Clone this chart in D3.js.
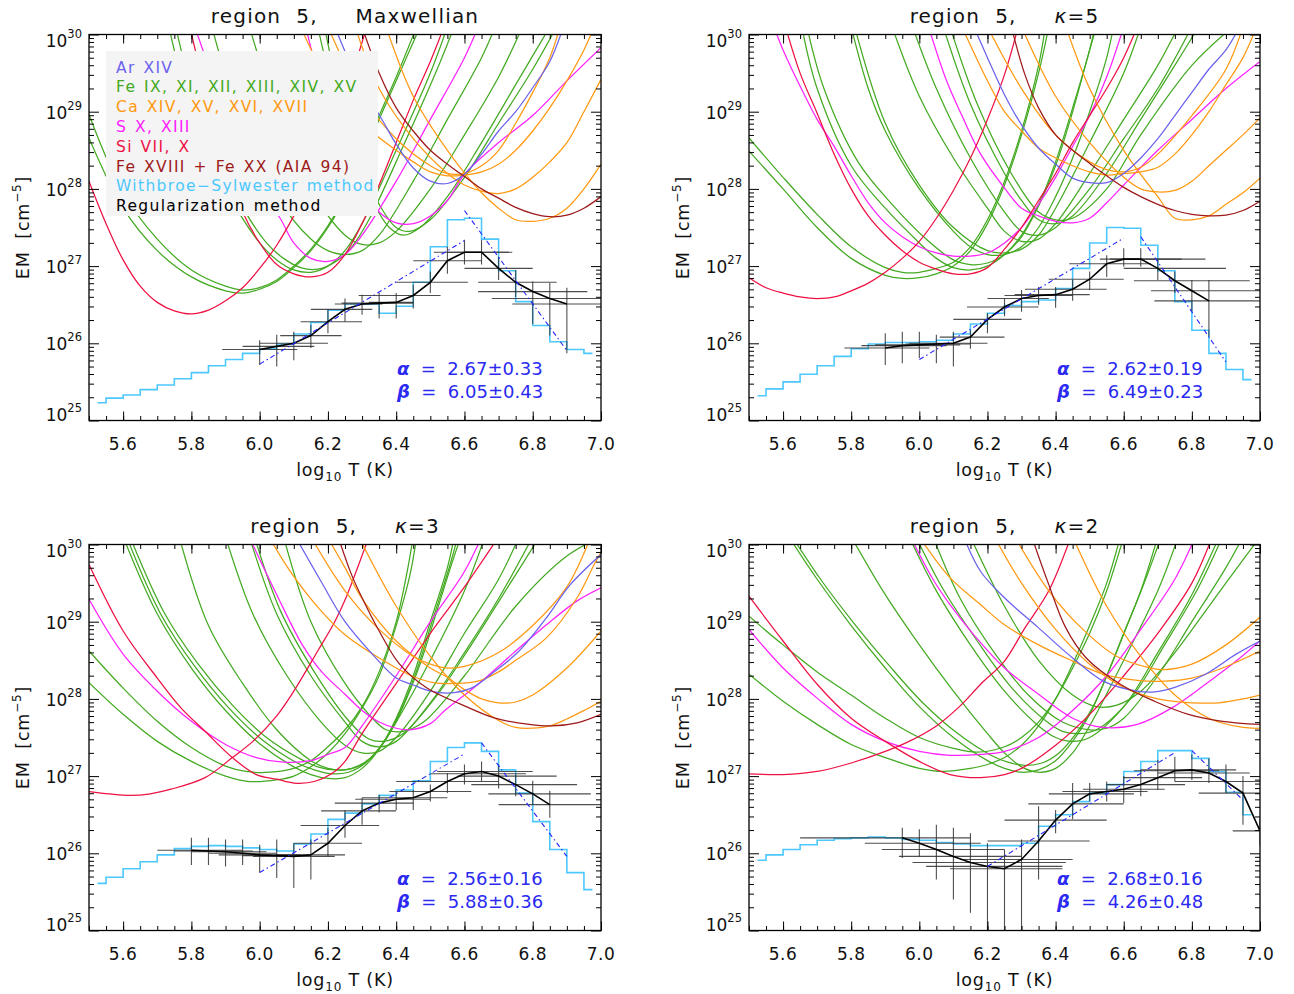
<!DOCTYPE html>
<html>
<head>
<meta charset="utf-8">
<script src="https://cdn.jsdelivr.net/npm/d3@7"></script>
<style>
  body { margin: 0; background: #fff; }
  text { font-family: "DejaVu Sans", sans-serif; font-weight: 400; fill: #111; }
</style>
</head>
<body>
<svg id="fig" width="1294" height="994"></svg>
<script>
// ---------- shared ----------
const tempBins = [5.525,5.575,5.625,5.675,5.725,5.775,5.825,5.875,5.925,5.975,6.025,6.075,6.125,6.175,6.225,6.275,6.325,6.375,6.425,6.475,6.525,6.575,6.625,6.675,6.725,6.775,6.825,6.875,6.925,6.975];
const xMajorTicks = [5.6, 5.8, 6.0, 6.2, 6.4, 6.6, 6.8, 7.0];
const xTickLabels = ["5.6","5.8","6.0","6.2","6.4","6.6","6.8","7.0"];
const yDecades = [25, 26, 27, 28, 29, 30];
const legendLabels = ["Ar XIV", "Fe IX, XI, XII, XIII, XIV, XV", "Ca XIV, XV, XVI, XVII", "S X, XIII", "Si VII, X", "Fe XVIII + Fe XX (AIA 94)", "Withbroe\u2212Sylwester method", "Regularization method"];
const colors = { ar: "#6b62ee", fe: "#44aa22", ca: "#ff9911", s: "#ff22ff", si: "#ee1144", fehot: "#9e1a1a", ws: "#4cc8ff", reg: "#000000", fit: "#2424ff" };

// ---------- Maxwellian ----------
const mxwFe = [
  [[5.5,28.96],[5.6,27.95],[5.7,27.35],[5.8,26.95],[5.9,26.74],[5.95,26.69],[6.0,26.72],[6.05,26.82],[6.1,27.0],[6.15,27.22],[6.2,27.52],[6.25,27.9],[6.3,28.4],[6.35,28.95],[6.4,29.45],[6.46,30.1]],
  [[5.5,28.66],[5.6,27.75],[5.7,27.2],[5.8,26.86],[5.9,26.68],[5.95,26.65],[6.0,26.7],[6.05,26.8],[6.1,26.98],[6.15,27.2],[6.2,27.5],[6.25,27.88],[6.3,28.35],[6.35,28.9],[6.4,29.4],[6.47,30.1]],
  [[5.734,30.1],[5.8,29.0],[5.9,28.0],[6.0,27.3],[6.05,27.08],[6.1,26.95],[6.15,26.92],[6.2,27.0],[6.25,27.2],[6.3,27.55],[6.4,28.5],[6.5,29.5],[6.55,30.1]],
  [[5.754,30.1],[5.82,29.0],[5.92,28.0],[6.02,27.3],[6.07,27.1],[6.12,26.98],[6.17,26.96],[6.22,27.05],[6.27,27.25],[6.32,27.6],[6.42,28.55],[6.52,29.55],[6.57,30.1]],
  [[5.86,30.1],[5.95,28.8],[6.05,27.9],[6.15,27.35],[6.2,27.2],[6.25,27.15],[6.3,27.2],[6.35,27.4],[6.45,28.1],[6.55,28.9],[6.65,29.7],[6.69,30.1]],
  [[5.97,30.1],[6.05,29.0],[6.15,28.0],[6.25,27.4],[6.3,27.28],[6.35,27.3],[6.4,27.45],[6.5,28.0],[6.6,28.7],[6.7,29.45],[6.77,30.1]],
  [[6.17,30.1],[6.22,29.2],[6.28,28.4],[6.33,27.85],[6.38,27.5],[6.42,27.4],[6.47,27.5],[6.55,27.9],[6.65,28.6],[6.75,29.35],[6.85,30.1]],
  [[6.19,30.1],[6.24,29.1],[6.3,28.3],[6.35,27.8],[6.4,27.5],[6.44,27.45],[6.5,27.6],[6.6,28.15],[6.7,28.85],[6.8,29.55],[6.87,30.1]]
];
const mxwCa = [
  [[6.12,30.1],[6.2,29.4],[6.3,28.85],[6.4,28.5],[6.45,28.35],[6.5,28.22],[6.55,28.17],[6.6,28.18],[6.65,28.22],[6.7,28.32],[6.75,28.5],[6.8,28.75],[6.85,29.05],[6.9,29.4],[6.95,29.8],[6.98,30.1]],
  [[6.28,30.1],[6.35,29.3],[6.45,28.65],[6.55,28.2],[6.6,28.05],[6.65,27.97],[6.7,27.94],[6.75,28.0],[6.8,28.15],[6.85,28.35],[6.9,28.6],[6.95,29.0],[7.0,29.42]],
  [[6.37,30.1],[6.45,29.2],[6.55,28.5],[6.65,27.95],[6.7,27.75],[6.75,27.6],[6.8,27.58],[6.85,27.62],[6.9,27.75],[6.95,28.0],[7.0,28.32]],
  [[6.2,30.1],[6.3,29.2],[6.4,28.65],[6.5,28.3],[6.55,28.2],[6.6,28.2],[6.65,28.3],[6.7,28.5],[6.75,28.85],[6.8,29.25],[6.85,29.7],[6.88,30.1]]
];
const mxwS = [
  [[5.81,30.1],[5.9,29.0],[6.0,28.0],[6.06,27.62],[6.1,27.3],[6.15,27.1],[6.2,27.06],[6.25,27.15],[6.3,27.4],[6.4,28.1],[6.5,28.9],[6.6,29.7],[6.64,30.1]],
  [[6.135,30.1],[6.2,29.0],[6.25,28.4],[6.3,28.0],[6.35,27.7],[6.4,27.56],[6.45,27.55],[6.5,27.65],[6.55,27.85],[6.6,28.19],[6.7,28.6],[6.8,28.95],[6.9,29.4],[7.0,29.83]]
];
const mxwSi = [
  [[5.5,28.1],[5.55,27.55],[5.6,27.08],[5.65,26.74],[5.7,26.53],[5.75,26.42],[5.8,26.38],[5.85,26.43],[5.9,26.55],[5.95,26.72],[6.0,26.97],[6.05,27.27],[6.1,27.65],[6.15,28.1],[6.2,28.6],[6.25,29.2],[6.3,29.9],[6.32,30.2]],
  [[5.79,30.2],[5.85,29.1],[5.9,28.3],[5.95,27.7],[6.0,27.3],[6.05,27.02],[6.1,26.9],[6.15,26.86],[6.2,26.92],[6.25,27.15],[6.3,27.55],[6.35,28.05],[6.4,28.6],[6.45,29.15],[6.5,29.65],[6.54,30.1]]
];
const mxwAr = [
  [[6.22,30.1],[6.3,29.3],[6.35,28.96],[6.4,28.58],[6.45,28.27],[6.5,28.1],[6.55,28.07],[6.6,28.19],[6.65,28.45],[6.7,28.75],[6.75,29.0],[6.8,29.31],[6.85,29.65],[6.89,30.1]]
];
const mxwFeHot = [
  [[6.3,30.1],[6.35,29.5],[6.4,29.05],[6.45,28.75],[6.5,28.5],[6.55,28.32],[6.6,28.16],[6.65,28.0],[6.7,27.88],[6.75,27.76],[6.8,27.68],[6.85,27.64],[6.9,27.66],[6.95,27.75],[7.0,27.9]]
];
const mxwWS = [25.23,25.29,25.33,25.40,25.46,25.54,25.62,25.71,25.79,25.87,25.93,25.99,26.12,26.27,26.43,26.51,26.51,26.39,26.48,26.79,27.25,27.60,27.62,27.35,26.94,26.54,26.23,26.02,25.92,25.87];
const mxwRegT    = [6.00,6.05,6.10,6.15,6.20,6.25,6.30,6.35,6.40,6.45,6.50,6.55,6.60,6.65,6.70,6.75,6.80,6.85,6.90];
const mxwRegEM   = [25.92,25.96,26.00,26.10,26.28,26.44,26.51,26.52,26.53,26.62,26.79,27.07,27.18,27.18,26.97,26.79,26.67,26.58,26.51];
const mxwRegTlo  = [5.89,5.95,6.00,6.06,6.12,6.15,6.22,6.24,6.32,6.29,6.40,6.45,6.51,6.55,6.60,6.64,6.64,6.68,6.74];
const mxwRegThi  = [6.11,6.16,6.20,6.24,6.30,6.33,6.36,6.45,6.45,6.53,6.61,6.65,6.73,6.74,6.80,6.87,6.96,7.00,7.00];
const mxwRegEMlo = [25.72,25.70,25.78,25.94,26.13,26.28,26.37,26.32,26.32,26.45,26.65,26.90,27.02,27.02,26.82,26.60,26.25,26.10,25.87];
const mxwRegEMhi = [26.04,26.11,26.15,26.24,26.43,26.58,26.63,26.65,26.65,26.76,26.93,27.25,27.34,27.34,27.12,26.95,26.80,26.78,26.72];
const mxwAlpha = [2.67, 0.33];
const mxwBeta  = [6.05, 0.43];
const mxwFitRise = [6.0, 6.6, 25.73];
const mxwFitFall = [6.6, 6.9, 27.72];

// ---------- kappa = 5 ----------
const k5Fe = [
  [[5.5,28.66],[5.6,28.15],[5.7,27.67],[5.8,27.25],[5.9,26.98],[5.95,26.92],[6.0,26.92],[6.05,26.97],[6.1,27.05],[6.15,27.25],[6.2,27.6],[6.25,28.1],[6.3,28.75],[6.35,29.6],[6.37,30.1]],
  [[5.5,28.49],[5.6,28.0],[5.7,27.5],[5.8,27.1],[5.9,26.88],[5.95,26.84],[6.0,26.85],[6.05,26.9],[6.1,27.0],[6.15,27.2],[6.2,27.55],[6.25,28.05],[6.3,28.7],[6.35,29.5],[6.38,30.1]],
  [[5.655,30.1],[5.7,29.3],[5.8,28.3],[5.9,27.75],[6.0,27.3],[6.05,27.1],[6.1,26.98],[6.15,26.95],[6.2,27.0],[6.25,27.15],[6.3,27.4],[6.35,27.8],[6.4,28.35],[6.45,29.05],[6.5,29.8],[6.515,30.1]],
  [[5.67,30.1],[5.72,29.3],[5.82,28.35],[5.92,27.8],[6.02,27.35],[6.1,27.08],[6.15,27.02],[6.2,27.04],[6.25,27.15],[6.3,27.38],[6.35,27.78],[6.4,28.3],[6.45,29.0],[6.5,29.8],[6.52,30.1]],
  [[5.8,30.1],[5.85,29.3],[5.9,28.75],[6.0,28.0],[6.1,27.45],[6.15,27.25],[6.2,27.15],[6.25,27.15],[6.3,27.25],[6.35,27.5],[6.4,27.9],[6.45,28.4],[6.5,29.0],[6.55,29.7],[6.57,30.1]],
  [[5.81,30.1],[5.9,28.85],[6.0,28.05],[6.1,27.5],[6.2,27.2],[6.25,27.17],[6.3,27.22],[6.35,27.4],[6.4,27.75],[6.5,28.6],[6.6,29.5],[6.65,30.1]],
  [[5.92,30.1],[6.0,29.2],[6.1,28.4],[6.2,27.75],[6.25,27.45],[6.3,27.32],[6.35,27.35],[6.4,27.55],[6.5,28.2],[6.6,28.9],[6.7,29.6],[6.76,30.1]],
  [[5.98,30.1],[6.05,29.3],[6.15,28.4],[6.25,27.7],[6.3,27.45],[6.35,27.4],[6.4,27.5],[6.5,28.0],[6.6,28.65],[6.7,29.3],[6.8,30.1]],
  [[6.07,30.1],[6.15,29.1],[6.25,28.2],[6.3,27.85],[6.35,27.6],[6.4,27.55],[6.45,27.65],[6.55,28.2],[6.65,28.9],[6.75,29.6],[6.82,30.1]],
  [[6.09,30.1],[6.17,29.1],[6.27,28.2],[6.35,27.7],[6.4,27.6],[6.45,27.62],[6.55,28.0],[6.65,28.7],[6.8,29.6],[6.92,30.1]]
];
const k5Ca = [
  [[6.125,30.1],[6.2,29.4],[6.25,29.0],[6.3,28.75],[6.35,28.53],[6.4,28.4],[6.45,28.3],[6.5,28.22],[6.55,28.18],[6.6,28.2],[6.65,28.22],[6.7,28.28],[6.75,28.45],[6.8,28.7],[6.85,29.0],[6.9,29.35],[6.95,29.7],[6.99,30.1]],
  [[6.3,30.1],[6.4,29.2],[6.5,28.6],[6.6,28.15],[6.65,28.0],[6.7,27.96],[6.75,27.98],[6.8,28.1],[6.85,28.3],[6.9,28.5],[6.95,28.7],[7.0,28.92]],
  [[6.43,30.1],[6.5,29.3],[6.6,28.5],[6.7,27.9],[6.75,27.62],[6.8,27.6],[6.85,27.65],[6.9,27.8],[6.95,27.95],[7.0,28.14]],
  [[6.2,30.1],[6.3,29.3],[6.4,28.7],[6.5,28.35],[6.55,28.25],[6.6,28.22],[6.65,28.28],[6.7,28.45],[6.8,28.95],[6.9,29.55],[6.95,30.1]]
];
const k5S = [
  [[5.573,30.1],[5.6,29.8],[5.65,29.33],[5.7,28.9],[5.75,28.55],[5.8,28.17],[5.85,27.82],[5.9,27.56],[5.95,27.38],[6.0,27.25],[6.05,27.17],[6.1,27.13],[6.15,27.13],[6.2,27.17],[6.25,27.3],[6.3,27.5],[6.35,27.8],[6.4,28.15],[6.45,28.55],[6.5,28.95],[6.55,29.45],[6.6,30.1]],
  [[6.027,30.1],[6.08,29.4],[6.125,28.95],[6.18,28.45],[6.25,28.01],[6.3,27.75],[6.35,27.65],[6.4,27.58],[6.45,27.56],[6.5,27.62],[6.55,27.82],[6.6,28.05],[6.7,28.5],[6.8,28.9],[6.9,29.3],[7.0,29.65]]
];
const k5Si = [
  [[5.5,26.85],[5.55,26.72],[5.6,26.65],[5.65,26.6],[5.7,26.58],[5.75,26.6],[5.8,26.68],[5.85,26.78],[5.9,26.92],[5.95,27.1],[6.0,27.32],[6.05,27.62],[6.1,27.98],[6.15,28.4],[6.2,28.9],[6.25,29.48],[6.29,30.1]],
  [[5.607,30.1],[5.65,29.5],[5.7,28.98],[5.75,28.45],[5.8,28.0],[5.85,27.65],[5.9,27.4],[5.95,27.2],[6.0,27.05],[6.05,26.96],[6.1,26.9],[6.15,26.9],[6.2,26.98],[6.25,27.22],[6.3,27.5],[6.35,27.85],[6.4,28.2],[6.45,28.6],[6.5,28.95],[6.55,29.3],[6.6,29.7],[6.64,30.1]]
];
const k5Ar = [
  [[6.16,30.1],[6.2,29.7],[6.25,29.22],[6.3,28.83],[6.35,28.53],[6.4,28.32],[6.45,28.14],[6.5,28.08],[6.55,28.08],[6.6,28.2],[6.65,28.4],[6.7,28.65],[6.75,28.95],[6.8,29.25],[6.85,29.55],[6.9,29.8],[6.94,30.1]]
];
const k5FeHot = [
  [[6.27,30.1],[6.31,29.48],[6.35,29.05],[6.4,28.7],[6.45,28.5],[6.5,28.33],[6.55,28.17],[6.6,28.02],[6.65,27.9],[6.7,27.8],[6.75,27.72],[6.8,27.67],[6.85,27.65],[6.9,27.66],[6.95,27.72],[7.0,27.84]]
];
const k5WS = [25.32,25.41,25.50,25.60,25.71,25.83,25.93,25.99,26.01,26.01,26.02,26.04,26.12,26.25,26.39,26.49,26.54,26.56,26.71,26.97,27.30,27.50,27.49,27.27,26.94,26.54,26.17,25.87,25.66,25.53];
const k5RegT    = [5.90,5.95,6.00,6.05,6.10,6.15,6.20,6.25,6.30,6.35,6.40,6.45,6.50,6.55,6.60,6.65,6.70,6.75,6.80,6.85];
const k5RegEM   = [25.94,25.97,25.98,25.99,26.00,26.08,26.31,26.47,26.58,26.62,26.63,26.70,26.83,27.03,27.09,27.09,26.97,26.81,26.68,26.55];
const k5RegTlo  = [5.78,5.83,5.87,5.96,5.97,6.06,6.10,6.14,6.20,6.25,6.28,6.31,6.38,6.44,6.53,6.56,6.60,6.63,6.68,6.69];
const k5RegThi  = [6.03,6.08,6.12,6.15,6.20,6.25,6.30,6.35,6.38,6.45,6.50,6.55,6.60,6.68,6.77,6.84,6.90,6.97,7.00,7.00];
const k5RegEMlo = [25.72,25.74,25.81,25.74,25.70,25.93,26.13,26.35,26.41,26.50,26.46,26.55,26.69,26.86,26.99,26.99,26.82,26.65,26.41,26.09];
const k5RegEMhi = [26.13,26.15,26.15,26.11,26.15,26.17,26.39,26.58,26.69,26.73,26.73,26.82,26.93,27.14,27.23,27.23,27.08,26.93,26.82,26.82];
const k5Alpha = [2.62, 0.19];
const k5Beta  = [6.49, 0.23];
const k5FitRise = [6.0, 6.6, 25.79];
const k5FitFall = [6.65, 6.9, 27.38];

// ---------- kappa = 3 ----------
const k3Fe = [
  [[5.5,28.62],[5.6,28.14],[5.7,27.71],[5.8,27.37],[5.9,27.13],[5.96,27.06],[6.03,27.05],[6.1,27.1],[6.15,27.2],[6.2,27.38],[6.25,27.6],[6.3,27.9],[6.35,28.35],[6.4,29.0],[6.43,29.6],[6.45,30.1]],
  [[5.5,28.21],[5.6,27.8],[5.7,27.45],[5.8,27.19],[5.9,27.0],[5.97,26.93],[6.05,26.95],[6.1,27.0],[6.15,27.12],[6.2,27.3],[6.25,27.55],[6.3,27.88],[6.35,28.3],[6.4,28.95],[6.44,29.6],[6.46,30.1]],
  [[5.60,30.1],[5.7,29.1],[5.8,28.4],[5.9,27.85],[6.0,27.42],[6.1,27.12],[6.15,27.02],[6.2,26.97],[6.25,26.98],[6.3,27.1],[6.35,27.35],[6.4,27.75],[6.45,28.3],[6.5,29.0],[6.55,29.7],[6.57,30.1]],
  [[5.61,30.1],[5.71,29.1],[5.81,28.42],[5.91,27.88],[6.01,27.46],[6.11,27.17],[6.16,27.08],[6.21,27.03],[6.26,27.05],[6.31,27.17],[6.36,27.42],[6.41,27.82],[6.46,28.37],[6.51,29.07],[6.56,29.77],[6.58,30.1]],
  [[5.62,30.1],[5.72,29.12],[5.82,28.45],[5.92,27.92],[6.02,27.5],[6.12,27.22],[6.17,27.12],[6.22,27.08],[6.27,27.1],[6.32,27.22],[6.37,27.48],[6.42,27.9],[6.47,28.45],[6.52,29.15],[6.57,29.85],[6.59,30.1]],
  [[5.764,30.1],[5.85,28.95],[5.95,28.2],[6.05,27.6],[6.15,27.2],[6.2,27.1],[6.25,27.08],[6.3,27.15],[6.35,27.35],[6.4,27.7],[6.5,28.5],[6.6,29.4],[6.66,30.1]],
  [[5.90,30.1],[5.98,29.1],[6.08,28.3],[6.18,27.7],[6.25,27.4],[6.3,27.3],[6.35,27.32],[6.4,27.5],[6.5,28.1],[6.6,28.85],[6.7,29.55],[6.76,30.1]],
  [[5.97,30.1],[6.05,29.1],[6.15,28.3],[6.25,27.7],[6.3,27.45],[6.35,27.38],[6.4,27.45],[6.5,27.95],[6.6,28.6],[6.7,29.3],[6.8,30.1]],
  [[5.985,30.1],[6.06,29.15],[6.16,28.35],[6.26,27.72],[6.32,27.48],[6.36,27.45],[6.42,27.55],[6.52,28.05],[6.62,28.7],[6.72,29.4],[6.82,30.1]],
  [[6.07,30.1],[6.15,29.0],[6.25,28.2],[6.32,27.8],[6.37,27.6],[6.42,27.58],[6.48,27.7],[6.6,28.3],[6.75,29.2],[6.9,29.85],[7.0,30.1]]
];
const k3Ca = [
  [[6.027,30.1],[6.09,29.65],[6.18,29.14],[6.25,28.83],[6.35,28.53],[6.45,28.29],[6.51,28.21],[6.57,28.2],[6.64,28.23],[6.7,28.35],[6.75,28.5],[6.84,28.79],[6.93,29.31],[6.98,29.74],[7.0,29.9]],
  [[6.198,30.1],[6.25,29.7],[6.3,29.3],[6.4,28.75],[6.5,28.4],[6.55,28.28],[6.6,28.12],[6.65,28.0],[6.7,27.95],[6.75,27.96],[6.8,28.05],[6.9,28.4],[7.0,28.88]],
  [[6.29,30.1],[6.4,29.2],[6.5,28.55],[6.6,28.05],[6.7,27.72],[6.75,27.63],[6.8,27.62],[6.85,27.65],[6.9,27.74],[6.95,27.85],[7.0,27.97]],
  [[6.15,30.1],[6.25,29.4],[6.35,28.9],[6.45,28.55],[6.5,28.45],[6.55,28.4],[6.6,28.42],[6.7,28.6],[6.8,28.95],[6.9,29.45],[6.97,30.1]]
];
const k3S = [
  [[5.5,29.29],[5.6,28.58],[5.7,28.1],[5.8,27.71],[5.9,27.41],[5.99,27.24],[6.07,27.18],[6.15,27.2],[6.2,27.28],[6.25,27.37],[6.3,27.65],[6.4,28.3],[6.5,29.0],[6.6,29.65],[6.65,30.1]],
  [[5.969,30.1],[6.05,29.35],[6.125,28.7],[6.18,28.36],[6.25,28.06],[6.3,27.85],[6.35,27.7],[6.4,27.62],[6.44,27.6],[6.5,27.68],[6.54,27.84],[6.64,28.19],[6.74,28.58],[6.84,28.96],[6.93,29.27],[7.0,29.44]]
];
const k3Si = [
  [[5.5,26.8],[5.56,26.77],[5.62,26.75],[5.68,26.77],[5.74,26.83],[5.84,26.98],[5.92,27.24],[5.98,27.45],[6.05,27.78],[6.1,28.1],[6.17,28.62],[6.22,29.0],[6.25,29.28],[6.32,30.1]],
  [[5.5,29.74],[5.6,28.88],[5.7,28.27],[5.77,27.88],[5.84,27.58],[5.92,27.24],[5.99,27.02],[6.05,26.96],[6.1,26.91],[6.16,26.93],[6.22,27.06],[6.25,27.19],[6.3,27.55],[6.4,28.2],[6.5,28.85],[6.6,29.45],[6.7,30.1]]
];
const k3Ar = [
  [[6.105,30.1],[6.18,29.52],[6.25,29.0],[6.33,28.58],[6.4,28.27],[6.445,28.19],[6.5,28.1],[6.57,28.08],[6.62,28.14],[6.69,28.36],[6.76,28.62],[6.84,29.05],[6.91,29.48],[7.0,29.87]]
];
const k3FeHot = [
  [[6.23,30.1],[6.27,29.6],[6.31,29.22],[6.35,28.88],[6.41,28.45],[6.49,28.14],[6.59,27.93],[6.69,27.75],[6.79,27.67],[6.855,27.65],[6.93,27.69],[7.0,27.8]]
];
const k3WS = [25.61,25.69,25.80,25.89,25.98,26.06,26.09,26.10,26.09,26.07,26.05,26.03,26.12,26.25,26.44,26.52,26.64,26.75,26.82,26.94,27.19,27.37,27.43,27.32,27.08,26.78,26.41,26.05,25.75,25.53];
const k3RegT    = [5.80,5.85,5.90,5.95,6.00,6.05,6.10,6.15,6.20,6.25,6.30,6.35,6.40,6.45,6.50,6.55,6.60,6.65,6.70,6.75,6.80,6.85];
const k3RegEM   = [26.04,26.03,26.02,26.00,25.98,25.97,25.96,25.98,26.13,26.36,26.55,26.65,26.70,26.72,26.80,26.93,27.03,27.06,27.00,26.89,26.77,26.63];
const k3RegTlo  = [5.70,5.75,5.80,5.85,5.88,5.95,5.98,6.05,6.10,6.12,6.18,6.22,6.28,6.30,6.38,6.40,6.50,6.52,6.58,6.62,6.67,6.70];
const k3RegThi  = [5.95,5.98,6.02,6.05,6.12,6.15,6.22,6.25,6.30,6.35,6.40,6.45,6.50,6.55,6.62,6.70,6.78,6.80,6.87,6.93,6.97,7.00];
const k3RegEMlo = [25.85,25.85,25.83,25.85,25.75,25.68,25.55,25.66,25.96,26.20,26.37,26.53,26.56,26.56,26.67,26.78,26.89,26.93,26.84,26.74,26.63,26.46];
const k3RegEMhi = [26.20,26.20,26.18,26.18,26.11,26.18,26.13,26.18,26.33,26.56,26.72,26.76,26.80,26.82,26.89,27.04,27.15,27.19,27.15,27.02,26.94,26.81];
const k3Alpha = [2.56, 0.16];
const k3Beta  = [5.88, 0.36];
const k3FitRise = [6.0, 6.6, 25.75];
const k3FitFall = [6.65, 6.9, 27.43];

// ---------- kappa = 2 ----------
const k2Fe = [
  [[5.5,29.07],[5.6,28.7],[5.7,28.35],[5.8,28.05],[5.9,27.75],[6.0,27.5],[6.1,27.36],[6.17,27.31],[6.25,27.38],[6.3,27.5],[6.35,27.7],[6.4,28.0],[6.45,28.4],[6.5,28.85],[6.55,29.4],[6.6,30.1]],
  [[5.5,28.32],[5.6,27.97],[5.7,27.67],[5.8,27.41],[5.9,27.24],[6.0,27.1],[6.07,27.06],[6.15,27.1],[6.2,27.15],[6.25,27.24],[6.3,27.4],[6.35,27.65],[6.4,28.0],[6.45,28.45],[6.5,28.95],[6.55,29.5],[6.59,30.1]],
  [[5.617,30.1],[5.7,29.55],[5.8,28.95],[5.9,28.4],[6.0,27.9],[6.1,27.5],[6.2,27.2],[6.25,27.1],[6.3,27.05],[6.35,27.08],[6.4,27.2],[6.45,27.45],[6.5,27.8],[6.55,28.3],[6.6,28.85],[6.65,29.4],[6.7,30.1]],
  [[5.627,30.1],[5.71,29.55],[5.81,28.97],[5.91,28.44],[6.01,27.95],[6.11,27.56],[6.21,27.27],[6.26,27.18],[6.31,27.14],[6.36,27.17],[6.41,27.3],[6.46,27.55],[6.51,27.9],[6.56,28.4],[6.61,28.95],[6.66,29.5],[6.71,30.1]],
  [[5.80,30.1],[5.9,29.35],[6.0,28.7],[6.1,28.1],[6.2,27.55],[6.25,27.3],[6.3,27.12],[6.35,27.05],[6.4,27.1],[6.45,27.3],[6.5,27.65],[6.6,28.5],[6.7,29.4],[6.76,30.1]],
  [[5.97,30.1],[6.05,29.4],[6.15,28.7],[6.25,28.1],[6.35,27.65],[6.4,27.5],[6.45,27.45],[6.5,27.5],[6.6,27.9],[6.7,28.6],[6.8,29.35],[6.88,30.1]],
  [[5.99,30.1],[6.07,29.42],[6.17,28.75],[6.27,28.15],[6.37,27.72],[6.42,27.58],[6.47,27.55],[6.52,27.6],[6.62,28.0],[6.72,28.7],[6.82,29.45],[6.89,30.1]],
  [[6.04,30.1],[6.12,29.3],[6.22,28.6],[6.32,28.05],[6.42,27.7],[6.5,27.6],[6.55,27.62],[6.6,27.75],[6.7,28.3],[6.8,29.0],[6.9,29.7],[6.95,30.1]],
  [[6.15,30.1],[6.25,29.2],[6.35,28.5],[6.45,28.05],[6.52,27.9],[6.58,27.92],[6.65,28.1],[6.75,28.6],[6.85,29.2],[6.95,29.8],[7.0,30.1]]
];
const k2Ca = [
  [[6.0,30.1],[6.09,29.57],[6.18,29.22],[6.25,28.96],[6.35,28.7],[6.45,28.49],[6.54,28.32],[6.64,28.24],[6.72,28.23],[6.8,28.27],[6.89,28.4],[7.0,28.62]],
  [[6.22,30.1],[6.3,29.5],[6.4,28.9],[6.5,28.45],[6.6,28.15],[6.7,28.0],[6.8,27.95],[6.88,27.95],[6.95,28.0],[7.0,28.05]],
  [[6.45,30.1],[6.55,29.2],[6.65,28.55],[6.75,28.05],[6.85,27.75],[6.95,27.63],[7.0,27.62]],
  [[6.28,30.1],[6.38,29.4],[6.48,28.9],[6.58,28.55],[6.68,28.4],[6.72,28.38],[6.8,28.45],[6.9,28.7],[7.0,29.06]]
];
const k2S = [
  [[5.5,28.9],[5.6,28.4],[5.7,28.01],[5.8,27.67],[5.9,27.45],[6.0,27.32],[6.09,27.27],[6.18,27.28],[6.25,27.32],[6.35,27.5],[6.45,27.85],[6.55,28.3],[6.65,28.9],[6.75,29.55],[6.81,30.1]],
  [[5.974,30.1],[6.04,29.55],[6.09,29.22],[6.16,28.83],[6.25,28.4],[6.35,28.06],[6.45,27.75],[6.54,27.63],[6.64,27.67],[6.74,27.88],[6.84,28.19],[6.93,28.49],[7.0,28.75]]
];
const k2Si = [
  [[5.5,27.03],[5.6,27.02],[5.7,27.06],[5.8,27.17],[5.9,27.32],[5.97,27.45],[6.05,27.65],[6.12,27.91],[6.18,28.19],[6.25,28.49],[6.31,28.92],[6.38,29.4],[6.445,30.1]],
  [[5.5,29.33],[5.6,28.75],[5.7,28.19],[5.8,27.75],[5.9,27.45],[6.0,27.19],[6.09,27.02],[6.18,26.98],[6.25,27.02],[6.3,27.1],[6.4,27.4],[6.5,27.8],[6.6,28.3],[6.7,28.85],[6.8,29.5],[6.86,30.1]]
];
const k2Ar = [
  [[6.13,30.1],[6.18,29.65],[6.25,29.31],[6.35,28.92],[6.45,28.53],[6.54,28.23],[6.64,28.1],[6.69,28.09],[6.75,28.15],[6.84,28.32],[6.93,28.58],[7.0,28.75]]
];
const k2FeHot = [
  [[6.33,30.1],[6.38,29.48],[6.43,28.92],[6.49,28.53],[6.59,28.19],[6.69,27.97],[6.79,27.8],[6.89,27.71],[7.0,27.67]]
];
const k2WS = [25.91,25.98,26.05,26.11,26.17,26.19,26.20,26.21,26.20,26.18,26.17,26.14,26.12,26.10,26.10,26.10,26.13,26.35,26.50,26.67,26.78,26.89,27.06,27.19,27.33,27.33,27.23,27.06,26.79,26.50];
const k2RegT    = [5.95,6.00,6.05,6.10,6.15,6.20,6.25,6.30,6.35,6.40,6.45,6.50,6.55,6.60,6.65,6.70,6.75,6.80,6.85,6.90,6.95,7.00];
const k2RegEM   = [26.20,26.13,26.05,25.96,25.88,25.83,25.80,25.92,26.16,26.43,26.64,26.77,26.80,26.83,26.89,26.98,27.07,27.08,27.04,26.93,26.78,26.29];
const k2RegTlo  = [5.65,5.84,5.89,5.94,5.98,6.02,6.09,6.12,6.20,6.25,6.32,6.38,6.42,6.48,6.55,6.60,6.63,6.65,6.70,6.75,6.82,6.92];
const k2RegThi  = [6.15,6.18,6.25,6.30,6.43,6.42,6.42,6.45,6.50,6.55,6.60,6.63,6.67,6.72,6.78,6.83,6.88,6.93,6.97,7.00,7.00,7.00];
const k2RegEMlo = [25.94,25.96,25.66,25.40,25.23,24.50,24.50,24.50,25.66,26.26,26.44,26.67,26.67,26.65,26.74,26.82,26.93,26.95,26.91,26.78,26.37,26.10];
const k2RegEMhi = [26.33,26.31,26.37,26.33,26.26,26.13,26.05,26.18,26.61,26.56,26.91,26.91,26.93,27.00,27.08,27.21,27.25,27.28,27.23,27.15,27.00,26.45];
const k2Alpha = [2.68, 0.16];
const k2Beta  = [4.26, 0.48];
const k2FitRise = [6.2, 6.75, 25.83];
const k2FitFall = [6.8, 6.95, 27.33];

// ---------- panel table built from the arrays above ----------
const panels = [
  { label: "Maxwellian", kappa: false, box: [89, 601, 34.5, 420.5], legend: true,
    fe: mxwFe, ca: mxwCa, s: mxwS, si: mxwSi, ar: mxwAr, fehot: mxwFeHot, ws: mxwWS,
    regT: mxwRegT, regEM: mxwRegEM, regTlo: mxwRegTlo, regThi: mxwRegThi, regLo: mxwRegEMlo, regHi: mxwRegEMhi,
    alpha: mxwAlpha, beta: mxwBeta, rise: mxwFitRise, fall: mxwFitFall },
  { label: "=5", kappa: true, box: [749, 1260, 34.5, 420.5], legend: false,
    fe: k5Fe, ca: k5Ca, s: k5S, si: k5Si, ar: k5Ar, fehot: k5FeHot, ws: k5WS,
    regT: k5RegT, regEM: k5RegEM, regTlo: k5RegTlo, regThi: k5RegThi, regLo: k5RegEMlo, regHi: k5RegEMhi,
    alpha: k5Alpha, beta: k5Beta, rise: k5FitRise, fall: k5FitFall },
  { label: "=3", kappa: true, box: [89, 601, 544.5, 930.5], legend: false,
    fe: k3Fe, ca: k3Ca, s: k3S, si: k3Si, ar: k3Ar, fehot: k3FeHot, ws: k3WS,
    regT: k3RegT, regEM: k3RegEM, regTlo: k3RegTlo, regThi: k3RegThi, regLo: k3RegEMlo, regHi: k3RegEMhi,
    alpha: k3Alpha, beta: k3Beta, rise: k3FitRise, fall: k3FitFall },
  { label: "=2", kappa: true, box: [749, 1260, 544.5, 930.5], legend: false,
    fe: k2Fe, ca: k2Ca, s: k2S, si: k2Si, ar: k2Ar, fehot: k2FeHot, ws: k2WS,
    regT: k2RegT, regEM: k2RegEM, regTlo: k2RegTlo, regThi: k2RegThi, regLo: k2RegEMlo, regHi: k2RegEMhi,
    alpha: k2Alpha, beta: k2Beta, rise: k2FitRise, fall: k2FitFall }
];

const svg = d3.select("#fig");
const black = "#000";

panels.forEach((p, idx) => {
  const [x0, x1, y0, y1] = p.box;
  const x = d3.scaleLinear().domain([5.5, 7.0]).range([x0, x1]);
  const y = d3.scaleLog().domain([1e25, 1e30]).range([y1, y0]);
  const Y = v => y(Math.pow(10, v));
  const g = svg.append("g");
  const clipId = "clip" + idx;
  svg.append("defs").append("clipPath").attr("id", clipId)
    .append("rect").attr("x", x0).attr("y", y0).attr("width", x1 - x0).attr("height", y1 - y0);
  const plot = g.append("g").attr("clip-path", `url(#${clipId})`);

  // EM loci curves
  const loci = d3.line().x(d => x(d[0])).y(d => Y(d[1])).curve(d3.curveCatmullRom.alpha(0.5));
  const groups = [["fe", colors.fe], ["s", colors.s], ["si", colors.si], ["ca", colors.ca], ["ar", colors.ar], ["fehot", colors.fehot]];
  groups.forEach(([key, col]) => {
    plot.selectAll(null).data(p[key]).enter().append("path")
      .attr("d", loci).attr("fill", "none").attr("stroke", col).attr("stroke-width", 1.25);
  });

  // legend box (first panel)
  if (p.legend) {
    const lx = x0 + 17, ly = y0 + 16.5;
    g.append("rect").attr("x", lx).attr("y", ly).attr("width", 272).attr("height", 165).attr("fill", "#f4f4f4");
    const lcols = [colors.ar, colors.fe, colors.ca, colors.s, colors.si, colors.fehot, colors.ws, black];
    legendLabels.forEach((t, i) => {
      g.append("text").attr("x", lx + 10).attr("y", ly + 21.5 + i * 19.8)
        .attr("font-size", 15.5).style("fill", lcols[i]).style("white-space", "pre")
        .attr("letter-spacing", 1.35).attr("word-spacing", 1.5).text(t);
    });
  }

  // Withbroe–Sylwester histogram
  const wsLine = d3.line().x(d => x(d[0])).y(d => Y(d[1])).curve(d3.curveStep);
  plot.append("path").datum(tempBins.map((t, i) => [t, p.ws[i]]))
    .attr("d", wsLine).attr("fill", "none").attr("stroke", colors.ws).attr("stroke-width", 1.6);

  // regularization error bars
  const eb = plot.append("g").attr("stroke", "#303030").attr("stroke-width", 1.1).attr("stroke-opacity", 0.85);
  p.regT.forEach((t, i) => {
    eb.append("line").attr("x1", x(p.regTlo[i])).attr("x2", x(p.regThi[i]))
      .attr("y1", Y(p.regEM[i])).attr("y2", Y(p.regEM[i]));
    eb.append("line").attr("x1", x(t)).attr("x2", x(t))
      .attr("y1", Y(p.regHi[i])).attr("y2", Y(p.regLo[i]));
  });
  const regLine = d3.line().x(d => x(d[0])).y(d => Y(d[1]));
  plot.append("path").datum(p.regT.map((t, i) => [t, p.regEM[i]]))
    .attr("d", regLine).attr("fill", "none").attr("stroke", black).attr("stroke-width", 1.6);

  // power-law fits
  const [rt0, rt1, re0] = p.rise;
  const [ft0, ft1, fe0] = p.fall;
  const riseSeg = [[rt0, re0], [rt1, re0 + p.alpha[0] * (rt1 - rt0)]];
  const fallSeg = [[ft0, fe0], [ft1, fe0 - p.beta[0] * (ft1 - ft0)]];
  [riseSeg, fallSeg].forEach(seg => {
    plot.append("path").datum(seg).attr("d", regLine).attr("fill", "none")
      .attr("stroke", colors.fit).attr("stroke-width", 1.1).attr("stroke-dasharray", "5,3,1.5,3");
  });

  // alpha / beta annotations
  const ann = [["\u03b1", p.alpha], ["\u03b2", p.beta]];
  ann.forEach(([sym, v], i) => {
    const t = g.append("text").attr("x", x0 + 308).attr("y", y1 - 46 + i * 23.5)
      .attr("font-size", 18).style("fill", "#2a2af2").style("white-space", "pre");
    t.append("tspan").attr("font-style", "italic").attr("font-weight", 700).text(sym);
    t.append("tspan").text(`  =  ${v[0].toFixed(2)}\u00b1${v[1].toFixed(2)}`);
  });

  // axes: inward ticks on all sides
  const xMinor = d3.range(5.5, 7.0001, 0.05).map(v => +v.toFixed(2));
  const yMinor = [];
  for (let e = 25; e < 30; e++) for (let m = 2; m <= 9; m++) yMinor.push(m * Math.pow(10, e));
  const yMajorVals = yDecades.map(e => Math.pow(10, e));
  const axisStyle = sel => { sel.select(".domain").remove(); sel.selectAll("text").remove(); sel.selectAll("line").attr("stroke", black).attr("stroke-width", 1); };
  g.append("g").attr("transform", `translate(0,${y1})`).call(d3.axisBottom(x).tickValues(xMinor).tickSize(-4.5)).call(axisStyle);
  g.append("g").attr("transform", `translate(0,${y1})`).call(d3.axisBottom(x).tickValues(xMajorTicks).tickSize(-9)).call(axisStyle);
  g.append("g").attr("transform", `translate(0,${y0})`).call(d3.axisTop(x).tickValues(xMinor).tickSize(-4.5)).call(axisStyle);
  g.append("g").attr("transform", `translate(0,${y0})`).call(d3.axisTop(x).tickValues(xMajorTicks).tickSize(-9)).call(axisStyle);
  g.append("g").attr("transform", `translate(${x0},0)`).call(d3.axisLeft(y).tickValues(yMinor).tickSize(-5)).call(axisStyle);
  g.append("g").attr("transform", `translate(${x0},0)`).call(d3.axisLeft(y).tickValues(yMajorVals).tickSize(-10)).call(axisStyle);
  g.append("g").attr("transform", `translate(${x1},0)`).call(d3.axisRight(y).tickValues(yMinor).tickSize(-5)).call(axisStyle);
  g.append("g").attr("transform", `translate(${x1},0)`).call(d3.axisRight(y).tickValues(yMajorVals).tickSize(-10)).call(axisStyle);
  g.append("rect").attr("x", x0).attr("y", y0).attr("width", x1 - x0).attr("height", y1 - y0)
    .attr("fill", "none").attr("stroke", black).attr("stroke-width", 1.3);

  // tick labels
  xMajorTicks.forEach((v, i) => {
    g.append("text").attr("x", x(v)).attr("y", y1 + 29).attr("text-anchor", "middle")
      .attr("font-size", 17).attr("letter-spacing", 0.5).text(xTickLabels[i]);
  });
  yDecades.forEach(e => {
    const ty = Y(e) + (e === 30 ? 12.5 : e === 25 ? 0 : 7);
    const t = g.append("text").attr("x", x0 - 7).attr("y", ty).attr("text-anchor", "end").attr("font-size", 17);
    t.append("tspan").text("10");
    t.append("tspan").attr("dy", -9).attr("font-size", 11.5).text(String(e));
  });

  // axis titles
  const xt = g.append("text").attr("x", (x0 + x1) / 2).attr("y", y1 + 55).attr("text-anchor", "middle")
    .attr("font-size", 17.5).attr("letter-spacing", 0.8).style("white-space", "pre");
  xt.append("tspan").text("log");
  xt.append("tspan").attr("dy", 5).attr("font-size", 12).text("10");
  xt.append("tspan").attr("dy", -5).text(" T (K)");
  const ycx = x0 - 60, ycy = (y0 + y1) / 2;
  const yt = g.append("text").attr("transform", `translate(${ycx},${ycy}) rotate(-90)`).attr("text-anchor", "middle")
    .attr("font-size", 17.5).attr("letter-spacing", 0.8).style("white-space", "pre");
  yt.append("tspan").text("EM  [cm");
  yt.append("tspan").attr("dy", -8).attr("font-size", 12).text("\u22125");
  yt.append("tspan").attr("dy", 8).text("]");

  // panel title
  const tt = g.append("text").attr("x", (x0 + x1) / 2).attr("y", y0 - 12).attr("text-anchor", "middle")
    .attr("font-size", 20).attr("letter-spacing", 1.2).style("white-space", "pre");
  tt.append("tspan").text("region  5,     ");
  if (p.kappa) {
    tt.append("tspan").attr("font-style", "italic").text("\u03ba");
  }
  tt.append("tspan").text(p.label);
});
</script>
</body>
</html>
